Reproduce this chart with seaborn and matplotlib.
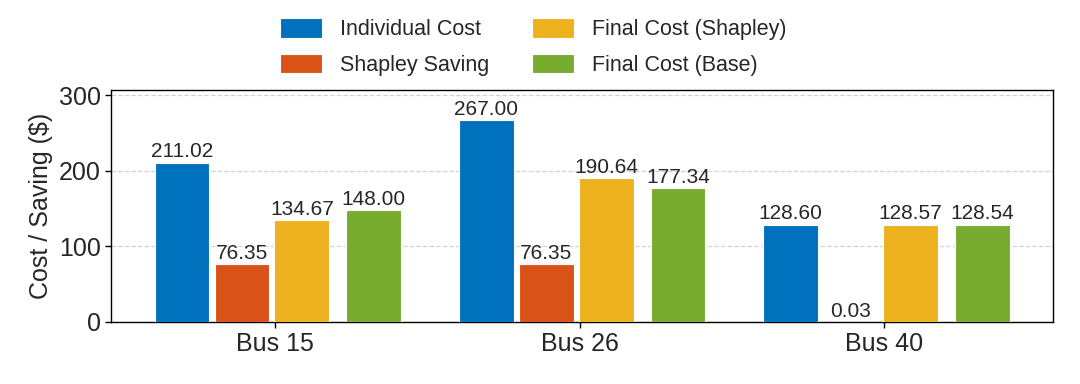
import pandas as pd
import matplotlib
matplotlib.use("Agg")
import matplotlib.pyplot as plt
import seaborn as sns

# Data
buses = ["Bus 15", "Bus 26", "Bus 40"]
series = ["Individual Cost", "Shapley Saving", "Final Cost (Shapley)", "Final Cost (Base)"]
individual_cost = [211.02, 267.00, 128.60]
shapley_saving = [76.35, 76.35, 0.03]
final_shapley = [134.67, 190.64, 128.57]
final_base = [148.00, 177.34, 128.54]
colors = ["#0072BD", "#D95319", "#EDB120", "#77AC30"]

# Long format table for seaborn
rows = []
for name, vals in zip(series, [individual_cost, shapley_saving, final_shapley, final_base]):
    for bus, v in zip(buses, vals):
        rows.append({"Bus": bus, "Value": v, "Series": name})
df = pd.DataFrame(rows)

sns.set_style("ticks")
plt.rcParams["font.family"] = ["Liberation Sans", "DejaVu Sans"]

fig = plt.figure(figsize=(10.8, 3.84), dpi=100)
ax = fig.add_axes([0.1028, 0.1615, 0.8722, 0.6041])

sns.barplot(data=df, x="Bus", y="Value", hue="Series", hue_order=series,
            palette=colors, width=0.8, gap=0.1, edgecolor="white",
            linewidth=0.8, saturation=1, ax=ax, zorder=3)

# small nudge of the dodge so the last series sits a bit further out
nudge = [-0.007, -0.01, -0.013, 0.023]
for cont, dx in zip(ax.containers, nudge):
    for p in cont.patches:
        p.set_x(p.get_x() + dx)
    ax.bar_label(cont, fmt="%.2f", padding=1, fontsize=15)

ax.set_xlim(-0.54, 2.555)
ax.set_ylim(0, 307)
ax.set_yticks([0, 100, 200, 300])
ax.yaxis.grid(True, linestyle="--", color="#d4d4d4", linewidth=0.9, zorder=0)
ax.set_axisbelow(True)
ax.set_xlabel("")
ax.set_ylabel("Cost / Saving ($)", fontsize=18)
ax.tick_params(axis="both", labelsize=18, length=4, width=1, color="black")
for s in ax.spines.values():
    s.set_visible(True)
    s.set_color("black")
    s.set_linewidth(1.0)

handles, labels = ax.get_legend_handles_labels()
ax.get_legend().remove()
fig.legend(handles, labels, loc="upper center", bbox_to_anchor=(0.494, 1.0),
           bbox_transform=fig.transFigure, ncol=2, frameon=False,
           fontsize=15.5, handlelength=1.95, handleheight=1.0,
           handletextpad=0.84, columnspacing=2.0, labelspacing=0.62,
           borderaxespad=0.45)

fig.savefig("out.png", dpi=100)
